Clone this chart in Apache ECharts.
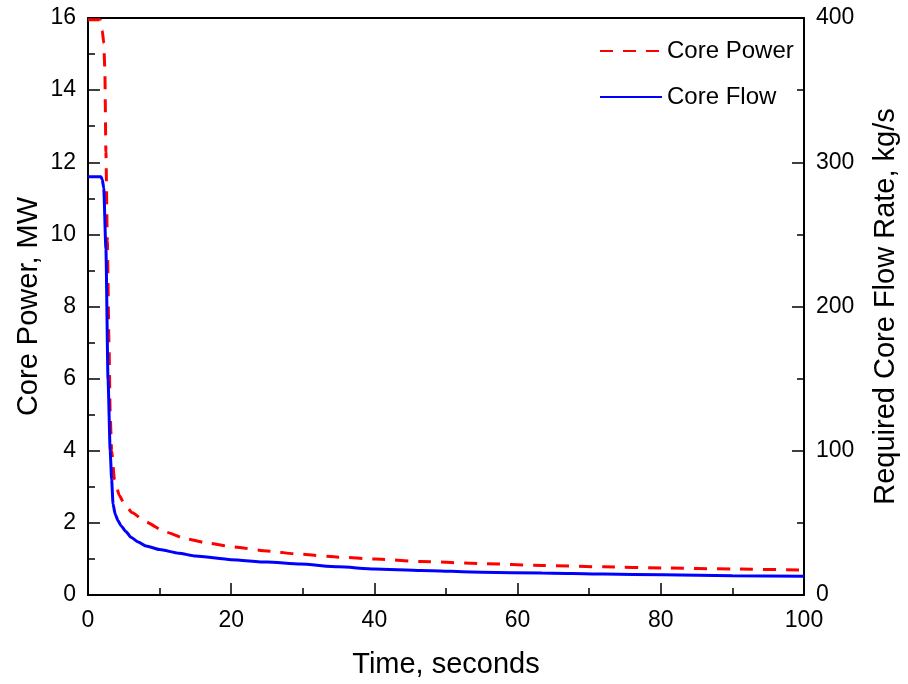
<!DOCTYPE html>
<html>
<head>
<meta charset="utf-8">
<script src="https://cdn.jsdelivr.net/npm/echarts@6/dist/echarts.min.js"></script>
<style>html,body{margin:0;padding:0;background:#fff}#c{width:908px;height:684px}</style>
</head>
<body>
<div id="c"></div>
<script>
const powerTime   = [0, 1.7, 2.0, 2.2, 2.35, 2.5, 2.7, 2.94, 3.1, 3.3, 3.7, 4.4, 5, 6.2, 8, 10.9, 13.8, 17, 20, 25, 29.6, 35, 40, 46.5, 55, 63.4, 72, 80.3, 90, 100];
const powerValues = [15.95, 15.95, 15.65, 15.3, 14.6, 12.3, 9.8, 6.9, 5.0, 4.0, 3.2, 2.75, 2.55, 2.28, 2.03, 1.74, 1.55, 1.43, 1.34, 1.22, 1.13, 1.05, 1.0, 0.93, 0.87, 0.82, 0.78, 0.75, 0.72, 0.69];
const flowTime    = [0, 1.8, 2.0, 2.2, 2.5, 2.8, 3.1, 3.3, 3.5, 3.8, 4.2, 4.6, 5.3, 6, 7, 8.1, 10, 12.7, 15, 20, 25, 29.6, 35, 40, 46.5, 55, 63.4, 72, 80.3, 90, 100];
const flowValues  = [290, 290, 288, 282, 240, 149, 100, 80, 63, 56, 51.5, 48, 44, 40, 36.8, 34, 31.5, 29, 27, 24.5, 22.8, 21.5, 19.5, 18, 17, 15.8, 15.2, 14.5, 14, 13.4, 13];
const seriesNames = ['Core Power', 'Core Flow'];
const xTitle = 'Time, seconds';
const yLeftTitle = 'Core Power, MW';
const yRightTitle = 'Required Core Flow Rate, kg/s';

const FONT = '"Liberation Sans", Arial, sans-serif';
const zip = (a, b) => a.map((v, i) => [v, b[i]]);
const chart = echarts.init(document.getElementById('c'), null, {renderer: 'canvas'});
const axisLine = {show: true, onZero: false, lineStyle: {color: '#000', width: 2}};
const tick = {inside: true, length: 12, lineStyle: {color: '#000', width: 1.5}};
const minor = {show: true, splitNumber: 2, length: 7, lineStyle: {color: '#000', width: 1.5}};
const lbl = {fontSize: 23, color: '#000', margin: 12, fontFamily: FONT};
const ttl = {fontSize: 29, color: '#000', fontFamily: FONT};
chart.setOption({
  animation: false,
  backgroundColor: '#fff',
  textStyle: {fontFamily: FONT},
  grid: {left: 88, right: 94, top: 18, bottom: 84, containLabel: false},
  legend: {
    orient: 'vertical', left: 594, top: 34, itemWidth: 62, itemHeight: 12, itemGap: 22,
    textStyle: {fontSize: 24, color: '#000', fontFamily: FONT},
    itemStyle: {opacity: 0, borderWidth: 0},
    data: seriesNames
  },
  xAxis: [{
    type: 'value', min: 0, max: 100, interval: 20,
    name: xTitle, nameLocation: 'middle', nameGap: 55, nameMoveOverlap: false,
    nameTextStyle: ttl,
    axisLine: axisLine, axisTick: tick, minorTick: minor,
    axisLabel: Object.assign({}, lbl, {margin: 14}),
    splitLine: {show: false}
  }, {
    type: 'value', position: 'top', min: 0, max: 100,
    axisLine: axisLine, axisTick: {show: false}, axisLabel: {show: false}, splitLine: {show: false}
  }],
  yAxis: [{
    type: 'value', min: 0, max: 16, interval: 2, position: 'left',
    name: yLeftTitle, nameLocation: 'middle', nameGap: 45, nameMoveOverlap: false,
    nameTextStyle: ttl,
    axisLine: axisLine, axisTick: tick, minorTick: minor,
    axisLabel: lbl,
    splitLine: {show: false}
  }, {
    type: 'value', min: 0, max: 400, interval: 100, position: 'right',
    name: yRightTitle, nameLocation: 'middle', nameGap: 67, nameMoveOverlap: false,
    nameTextStyle: ttl,
    axisLine: axisLine, axisTick: tick, minorTick: minor,
    axisLabel: lbl,
    splitLine: {show: false}
  }],
  series: [{
    name: seriesNames[0], type: 'line', yAxisIndex: 0, xAxisIndex: 0,
    data: zip(powerTime, powerValues), showSymbol: false, symbol: 'none',
    smooth: 0.2, smoothMonotone: 'x',
    lineStyle: {color: '#ff0000', width: 3, type: [13, 10]},
    itemStyle: {color: '#ff0000'}
  }, {
    name: seriesNames[1], type: 'line', yAxisIndex: 1, xAxisIndex: 0,
    data: zip(flowTime, flowValues), showSymbol: false, symbol: 'none',
    smooth: 0.2, smoothMonotone: 'x',
    lineStyle: {color: '#0000ff', width: 3},
    itemStyle: {color: '#0000ff'}
  }]
});
</script>
</body>
</html>
